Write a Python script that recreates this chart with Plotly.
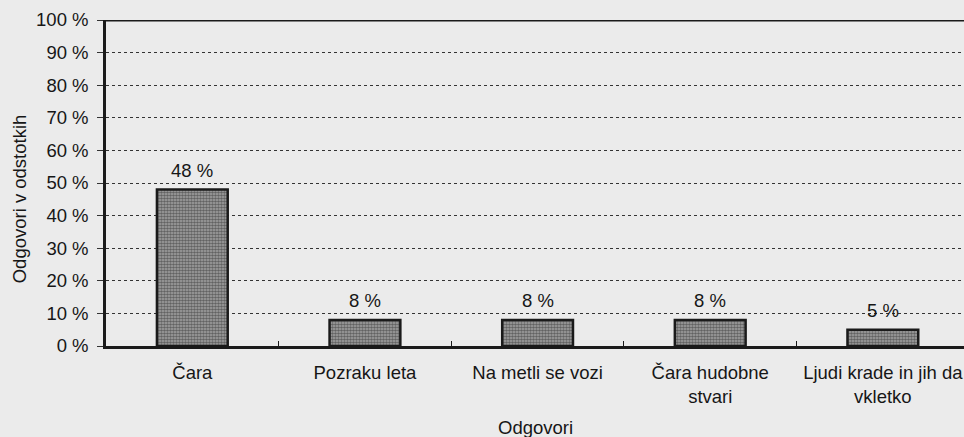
import plotly.graph_objects as go

# Survey answers and the share of respondents giving each one
categories = ["Čara", "Pozraku leta", "Na metli se vozi", "Čara hudobne<br>stvari", "Ljudi krade in jih da<br>vkletko"]
shares = [48, 8, 8, 8, 5]
y_ticks = [0, 10, 20, 30, 40, 50, 60, 70, 80, 90, 100]
y_tick_labels = [f"{t} %" for t in y_ticks]

FONT = "Liberation Sans, Arial, sans-serif"
INK = "#161616"
PAPER = "#ebebeb"
FS = 18.5

fig = go.Figure()
fig.add_trace(go.Bar(
    x=categories,
    y=shares,
    width=0.41,
    marker=dict(
        color="#8c8c8c",
        line=dict(color="#1a1a1a", width=2.5),
        pattern=dict(shape=".", size=3, solidity=0.6, fgcolor="#1e1e1e", bgcolor="#a6a6a6"),
    ),
    showlegend=False,
    hoverinfo="skip",
))

# Value labels above each bar
for cat, v in zip(categories, shares):
    fig.add_annotation(
        x=cat, y=v, text=f"{v} %", showarrow=False,
        yanchor="bottom", yshift=7,
        font=dict(family=FONT, size=FS, color=INK),
    )

# Axis titles
fig.add_annotation(
    xref="paper", yref="paper", x=0.5, y=0, yshift=-81,
    text="Odgovori", showarrow=False, xanchor="center", yanchor="middle",
    font=dict(family=FONT, size=FS, color=INK),
)
fig.add_annotation(
    xref="paper", yref="paper", x=0, xshift=-87, y=0.45,
    text="Odgovori v odstotkih", showarrow=False, textangle=-90,
    xanchor="center", yanchor="middle",
    font=dict(family=FONT, size=FS, color=INK),
)

# Heavy frame line along the top of the plot
fig.add_shape(
    type="line", xref="paper", yref="y", x0=0, x1=1, y0=100, y1=100,
    line=dict(color="#1a1a1a", width=3),
)

fig.update_layout(
    width=964, height=437,
    margin=dict(l=106, r=0, t=20, b=91),
    paper_bgcolor=PAPER, plot_bgcolor=PAPER,
    font=dict(family=FONT, size=FS, color=INK),
)
fig.update_xaxes(
    type="category",
    range=[-0.5, 4.47],
    showline=True, linecolor="#1a1a1a", linewidth=2.5,
    ticks="inside", tickson="boundaries", ticklen=5, tickwidth=1.2, tickcolor="#1a1a1a",
    showgrid=False, zeroline=False,
    ticklabelstandoff=8,
    tickfont=dict(family=FONT, size=FS, color=INK),
)
fig.update_yaxes(
    range=[0, 100],
    tickvals=y_ticks, ticktext=y_tick_labels,
    showline=True, linecolor="#1a1a1a", linewidth=2.5,
    ticks="outside", ticklen=6, tickwidth=1, tickcolor="#333333",
    showgrid=True, gridcolor="#333333", gridwidth=1, griddash="3px,3px",
    zeroline=False,
    ticklabelstandoff=5,
    tickfont=dict(family=FONT, size=FS, color=INK),
)

fig.write_html("out.html")
